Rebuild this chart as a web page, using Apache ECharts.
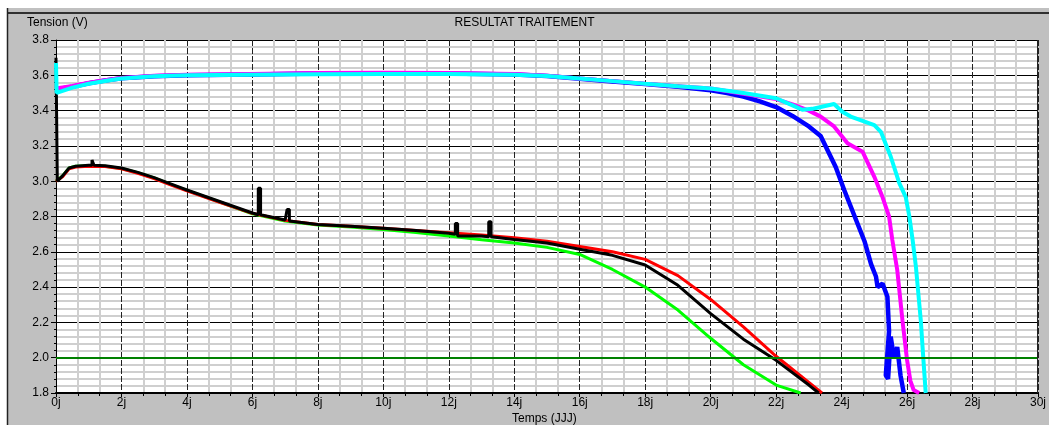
<!DOCTYPE html>
<html>
<head>
<meta charset="utf-8">
<script src="https://cdn.jsdelivr.net/npm/echarts@6/dist/echarts.min.js"></script>
<style>
  html, body { margin: 0; padding: 0; background: #fff; }
  #chart { width: 1049px; height: 425px; }
</style>
</head>
<body>
<div id="chart"></div>
<script>
// axes
const xMin = 0, xMax = 30, xStep = 2;
const yMin = 1.8, yMax = 3.8, yStep = 0.2;
const seuil = 2.0;   // ligne verte

// courbes basses [jours, volts]
const noirPts = [[0,3.7],[0.04,3.7],[0.04,3.0],[0.2,3.03],[0.4,3.075],[0.6,3.085],[1,3.09],[1.1,3.09],[1.1,3.12],[1.16,3.12],[1.16,3.09],
  [1.5,3.088],[2,3.075],[2.5,3.05],[3,3.02],[3.5,2.985],[4,2.95],[5,2.885],[6,2.82],
  [6.18,2.81],[6.18,2.96],[6.25,2.96],[6.25,2.81],[6.5,2.8],[7,2.78],
  [7.06,2.775],[7.06,2.84],[7.13,2.84],[7.13,2.775],[8,2.755],[9,2.745],[10,2.733],[11,2.72],[12,2.705],
  [12.2,2.7],[12.2,2.76],[12.27,2.76],[12.27,2.69],[13,2.69],
  [13.22,2.685],[13.22,2.77],[13.29,2.77],[13.29,2.685],[14,2.67],[15,2.65],[16,2.615],[17,2.58],[18,2.525],
  [19,2.41],[20,2.25],[21,2.105],[22,1.985],[23,1.845],[23.3,1.8]];
const rougePts = [[0,3.0],[0.2,3.025],[0.4,3.07],[0.6,3.08],[1,3.085],[1.5,3.083],[2,3.07],[2.5,3.045],[3,3.015],
  [3.5,2.98],[4,2.945],[5,2.88],[6,2.818],[7,2.778],[8,2.755],[9,2.745],[10,2.733],[11,2.72],[12,2.708],[13,2.695],
  [14,2.68],[15,2.66],[16,2.63],[17,2.6],[18,2.557],[19,2.465],[20,2.33],[21,2.175],[22,2.008],[23,1.86],[23.4,1.8]];
const vertPts = [[0,3.0],[0.2,3.03],[0.4,3.075],[0.6,3.085],[1,3.088],[1.5,3.085],[2,3.072],[2.5,3.048],[3,3.018],
  [3.5,2.982],[4,2.948],[5,2.882],[6,2.815],[7,2.775],[8,2.752],[9,2.74],[10,2.727],[11,2.71],[12,2.69],[13,2.668],
  [14,2.65],[15,2.625],[16,2.585],[17,2.5],[18,2.4],[19,2.27],[20,2.11],[21,1.96],[22,1.845],[22.75,1.8]];

// courbes hautes
const bleuPts = [[0,3.52],[0.5,3.535],[1,3.555],[1.5,3.57],[2,3.583],[3,3.595],[4,3.6],[6,3.605],[8,3.61],[10,3.612],
  [12,3.61],[14,3.605],[15,3.596],[16,3.58],[17,3.565],[18,3.55],[19,3.535],[20,3.515],[20.5,3.5],[21,3.48],
  [21.5,3.452],[22,3.42],[22.5,3.37],[23,3.31],[23.36,3.256],[23.82,3.08],[24.08,2.95],[24.4,2.8],[24.7,2.66],
  [24.9,2.53],[25.05,2.46],[25.1,2.4],[25.25,2.42],[25.4,2.345],[25.45,2.15],[25.35,1.9],[25.42,1.88],[25.5,2.12],
  [25.6,2.0],[25.7,2.06],[25.8,1.9],[25.9,1.8]];
const magentaPts = [[0,3.525],[0.5,3.54],[1,3.558],[1.5,3.572],[2,3.585],[3,3.597],[4,3.603],[6,3.608],[8,3.613],
  [10,3.615],[12,3.613],[14,3.607],[15,3.598],[16,3.582],[17,3.567],[18,3.552],[19,3.538],[20,3.525],[21,3.495],
  [22,3.465],[22.5,3.435],[23,3.4],[23.36,3.366],[23.77,3.31],[24.18,3.215],[24.64,3.167],[25,3.025],[25.25,2.91],
  [25.45,2.8],[25.55,2.667],[25.7,2.497],[25.86,2.21],[26,1.987],[26.1,1.87],[26.2,1.817],[26.37,1.8]];
const cyanPts = [[0,3.67],[0.02,3.5],[0.5,3.53],[1,3.552],[1.5,3.568],[2,3.582],[3,3.595],[4,3.6],[6,3.603],[8,3.606],
  [10,3.608],[12,3.607],[14,3.603],[15,3.596],[16,3.582],[17,3.567],[18,3.552],[19,3.538],[20,3.525],[21,3.5],
  [22,3.47],[22.5,3.43],[22.8,3.405],[23.1,3.41],[23.36,3.42],[23.77,3.437],[24.02,3.394],[24.28,3.366],[25,3.318],
  [25.2,3.28],[25.5,3.14],[25.76,2.99],[25.96,2.91],[26.07,2.8],[26.17,2.667],[26.27,2.516],[26.42,2.21],
  [26.5,1.987],[26.57,1.8]];

const police = 'Liberation Sans';

function courbe(nom, pts, couleur, largeur) {
  return {
    name: nom, type: 'line', data: pts, symbol: 'none', animation: false,
    lineStyle: { color: couleur, width: largeur, join: 'bevel' }
  };
}

let myChart = echarts.init(document.getElementById('chart'));
let option = {
  backgroundColor: '#fff',
  animation: false,
  graphic: [
    { type: 'rect', z: -10, shape: { x: 7, y: 8, width: 1042, height: 417 }, style: { fill: '#c0c0c0' } },
    { type: 'line', z: -9, shape: { x1: 7, y1: 13, x2: 1049, y2: 13 }, style: { stroke: '#000', lineWidth: 1.5 } },
    { type: 'line', z: -9, shape: { x1: 7.5, y1: 8, x2: 7.5, y2: 425 }, style: { stroke: '#222', lineWidth: 1.5 } },
    { type: 'line', z: 10, shape: { x1: 1037.5, y1: 40, x2: 1037.5, y2: 393 }, style: { stroke: '#222', lineWidth: 1 } },
    { type: 'text', left: 27, top: 17, style: { text: 'Tension (V)', font: '12px ' + police, fill: '#000' } },
    { type: 'text', left: 'center', top: 17, style: { text: 'RESULTAT TRAITEMENT', font: '12px ' + police, fill: '#000' } },
    { type: 'text', left: 512, top: 413, style: { text: 'Temps (JJJ)', font: '12px ' + police, fill: '#000' } }
  ],
  grid: {
    left: 56, right: 11, top: 40, bottom: 32,
    show: true, backgroundColor: '#fff', borderColor: 'transparent'
  },
  xAxis: {
    type: 'value', min: xMin, max: xMax, interval: xStep,
    axisLine: { show: true, onZero: false, lineStyle: { color: '#000', width: 2 } },
    axisTick: { show: true, length: 4, lineStyle: { color: '#000' } },
    minorTick: { show: true, splitNumber: 3, length: 3, lineStyle: { color: '#000' } },
    axisLabel: { formatter: v => v + 'j', color: '#000', fontFamily: police, fontSize: 12, margin: 4 },
    splitLine: { show: true, lineStyle: { color: '#222', width: 1, type: [6, 2] } },
    minorSplitLine: { show: true, lineStyle: { color: '#cfcfcf', width: 2 } }
  },
  yAxis: {
    type: 'value', min: yMin, max: yMax, interval: yStep,
    axisLine: { show: true, onZero: false, lineStyle: { color: '#000', width: 1 } },
    axisTick: { show: true, length: 5, lineStyle: { color: '#000' } },
    minorTick: { show: true, splitNumber: 5, length: 2, lineStyle: { color: '#000' } },
    axisLabel: { formatter: v => v.toFixed(1), color: '#000', fontFamily: police, fontSize: 12, margin: 7 },
    splitLine: { show: true, lineStyle: { color: '#000', width: 1 } },
    minorSplitLine: { show: true, lineStyle: { color: '#cfcfcf', width: 2 } }
  },
  series: [
    courbe('vert', vertPts, '#00ff00', 3),
    courbe('rouge', rougePts, '#ff0000', 3),
    courbe('noir', noirPts, '#000000', 3),
    courbe('bleu', bleuPts, '#0000ff', 4.5),
    courbe('magenta', magentaPts, '#ff00ff', 4),
    Object.assign(courbe('cyan', cyanPts, '#00ffff', 4), {
      markLine: {
        silent: true, symbol: 'none', label: { show: false },
        lineStyle: { color: '#008000', width: 2, type: 'solid' },
        data: [{ yAxis: seuil }]
      }
    })
  ]
};
myChart.setOption(option);
window.addEventListener('resize', function() { myChart.resize() });
</script>
</body>
</html>
